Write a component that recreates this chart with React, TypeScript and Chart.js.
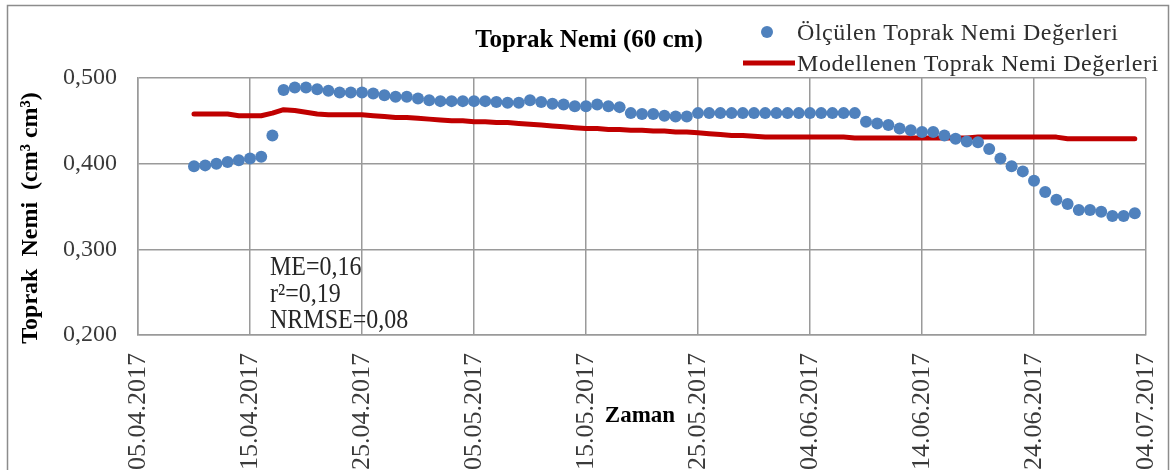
import React, { useEffect, useRef } from 'react';
import { Chart, registerables } from 'chart.js';

Chart.register(...registerables);

const SERIF = "'Liberation Serif', 'Times New Roman', serif";

const chartTitle = 'Toprak Nemi (60 cm)';
const yTitle = 'Toprak  Nemi  (cm³ cm³)';
const xTitle = 'Zaman';
const seriesLabels = ['Ölçülen Toprak Nemi Değerleri', 'Modellenen Toprak Nemi Değerleri'];
const statsLines = ['ME=0,16', 'r²=0,19', 'NRMSE=0,08'];

// x axis: days since 05.04.2017, ticks every 10 days
const xTickLabels = [
  '05.04.2017', '15.04.2017', '25.04.2017', '05.05.2017', '15.05.2017',
  '25.05.2017', '04.06.2017', '14.06.2017', '24.06.2017', '04.07.2017',
];
const yTickValues = [0.2, 0.3, 0.4, 0.5];
const yTickLabels = ['0,200', '0,300', '0,400', '0,500'];

// first observation day (10.04.2017), one value per day
const firstDay = 5;

const measured = [
  0.397, 0.398, 0.400, 0.402, 0.404, 0.406, 0.408, 0.433, 0.486, 0.489,
  0.489, 0.487, 0.485, 0.483, 0.483, 0.483, 0.482, 0.480, 0.478, 0.478,
  0.476, 0.474, 0.473, 0.473, 0.473, 0.473, 0.473, 0.472, 0.471, 0.471,
  0.474, 0.472, 0.470, 0.469, 0.467, 0.467, 0.469, 0.467, 0.466, 0.459,
  0.458, 0.458, 0.456, 0.455, 0.455, 0.459, 0.459, 0.459, 0.459, 0.459,
  0.459, 0.459, 0.459, 0.459, 0.459, 0.459, 0.459, 0.459, 0.459, 0.459,
  0.449, 0.447, 0.445, 0.441, 0.439, 0.437, 0.437, 0.433, 0.429, 0.426,
  0.425, 0.417, 0.406, 0.397, 0.391, 0.380, 0.367, 0.358, 0.353, 0.346,
  0.346, 0.344, 0.339, 0.339, 0.342,
];

const modeled = [
  0.458, 0.458, 0.458, 0.458, 0.456, 0.456, 0.456, 0.459, 0.463, 0.462,
  0.460, 0.458, 0.457, 0.457, 0.457, 0.457, 0.456, 0.455, 0.454, 0.454,
  0.453, 0.452, 0.451, 0.450, 0.450, 0.449, 0.449, 0.448, 0.448, 0.447,
  0.446, 0.445, 0.444, 0.443, 0.442, 0.441, 0.441, 0.440, 0.440, 0.439,
  0.439, 0.438, 0.438, 0.437, 0.437, 0.436, 0.435, 0.434, 0.433, 0.433,
  0.432, 0.431, 0.431, 0.431, 0.431, 0.431, 0.431, 0.431, 0.431, 0.430,
  0.430, 0.430, 0.430, 0.430, 0.430, 0.430, 0.430, 0.430, 0.430, 0.430,
  0.431, 0.431, 0.431, 0.431, 0.431, 0.431, 0.431, 0.431, 0.429, 0.429,
  0.429, 0.429, 0.429, 0.429, 0.429,
];

const BLUE = '#4F81BD';
const RED = '#C00000';
const GRID = '#9a9a9a';

const decor = {
  id: 'decor',
  beforeDraw(chart: any) {
    const ctx = chart.ctx;
    ctx.save();
    ctx.fillStyle = '#ffffff';
    ctx.fillRect(0, 0, chart.width, chart.height);
    ctx.strokeStyle = '#8c8c8c';
    ctx.lineWidth = 1.5;
    ctx.beginPath();
    ctx.moveTo(7.5, chart.height + 5);
    ctx.lineTo(7.5, 5.5);
    ctx.lineTo(1168.5, 5.5);
    ctx.lineTo(1168.5, chart.height + 5);
    ctx.stroke();
    ctx.restore();
  },
  afterDraw(chart: any) {
    const ctx = chart.ctx;
    const ds = chart.data.datasets;
    ctx.save();
    // title
    ctx.fillStyle = '#000000';
    ctx.font = `bold 25px ${SERIF}`;
    ctx.textAlign = 'center';
    ctx.textBaseline = 'alphabetic';
    ctx.fillText(chartTitle, 589, 47);

    // legend
    ctx.beginPath();
    ctx.arc(767, 32, 6, 0, Math.PI * 2);
    ctx.fillStyle = ds[0].backgroundColor;
    ctx.fill();
    ctx.strokeStyle = ds[1].borderColor;
    ctx.lineWidth = 5;
    ctx.beginPath();
    ctx.moveTo(743, 63);
    ctx.lineTo(795, 63);
    ctx.stroke();
    ctx.font = `24px ${SERIF}`;
    ctx.textAlign = 'left';
    ctx.fillStyle = '#2e2e2e';
    (ctx as any).letterSpacing = '0.55px';
    ctx.fillText(seriesLabels[0], 797, 40);
    ctx.fillText(seriesLabels[1], 797, 71);
    (ctx as any).letterSpacing = '0px';

    // y title
    ctx.save();
    ctx.translate(36.5, 218);
    ctx.rotate(-Math.PI / 2);
    ctx.font = `bold 24px ${SERIF}`;
    ctx.fillStyle = '#000000';
    ctx.textAlign = 'center';
    ctx.fillText(yTitle, 0, 0);
    ctx.restore();

    // x title
    ctx.font = `bold 23px ${SERIF}`;
    ctx.fillStyle = '#000000';
    ctx.textAlign = 'center';
    ctx.fillText(xTitle, 640, 422);

    // statistics
    ctx.font = `24px ${SERIF}`;
    ctx.textAlign = 'left';
    ctx.fillStyle = '#262626';
    const baselines = [275, 301.5, 328];
    statsLines.forEach((t, i) => {
      ctx.save();
      ctx.translate(270, baselines[i]);
      ctx.scale(1, 1.12);
      ctx.fillText(t, 0, 0);
      ctx.restore();
    });
    ctx.restore();
  },
};

export default function App() {
  const ref = useRef<HTMLCanvasElement | null>(null);

  useEffect(() => {
    if (!ref.current) return;
    const chart = new Chart(ref.current, {
      type: 'line',
      data: {
        datasets: [
          {
            label: seriesLabels[0],
            data: measured.map((v, i) => ({ x: firstDay + i, y: v })),
            showLine: false,
            backgroundColor: BLUE,
            borderColor: BLUE,
            pointRadius: 6,
            pointBorderWidth: 0,
            pointHoverRadius: 6,
          },
          {
            label: seriesLabels[1],
            data: modeled.map((v, i) => ({ x: firstDay + i, y: v })),
            borderColor: RED,
            backgroundColor: RED,
            borderWidth: 5,
            pointRadius: 0,
            tension: 0,
            borderCapStyle: 'round',
            borderJoinStyle: 'round',
          },
        ],
      },
      options: {
        animation: false,
        responsive: false,
        devicePixelRatio: 1,
        layout: { padding: { left: 0, right: 26, top: 78, bottom: 0 } },
        plugins: {
          legend: { display: false },
          title: { display: false },
          tooltip: { enabled: false },
        },
        scales: {
          x: {
            type: 'linear',
            min: 0,
            max: 90,
            afterFit: (s: any) => {
              s.height = 135;
              s.paddingLeft = 0;
              s.paddingRight = 0;
            },
            grid: { color: GRID, lineWidth: 1.5, drawTicks: false },
            border: { display: true, color: GRID, width: 1.5 },
            ticks: {
              stepSize: 10,
              autoSkip: false,
              minRotation: 90,
              maxRotation: 90,
              padding: 18,
              color: '#3a3a3a',
              font: { family: SERIF, size: 26 },
              callback: (v: any) => xTickLabels[Math.round(Number(v) / 10)] ?? '',
            },
          },
          y: {
            min: 0.2,
            max: 0.5,
            afterFit: (s: any) => {
              s.width = 138;
              s.paddingTop = 0;
              s.paddingBottom = 0;
            },
            grid: { color: GRID, lineWidth: 1.5, drawTicks: false },
            border: { display: true, color: GRID, width: 1.5 },
            ticks: {
              stepSize: 0.1,
              padding: 21,
              color: '#3a3a3a',
              font: { family: SERIF, size: 24 },
              callback: (v: any) => {
                const i = yTickValues.findIndex((t) => Math.abs(t - Number(v)) < 1e-6);
                return i >= 0 ? yTickLabels[i] : '';
              },
            },
          },
        },
      } as any,
      plugins: [decor],
    });
    return () => chart.destroy();
  }, []);

  return (
    <div style={{ position: 'absolute', left: 0, top: 0, width: 1172, height: 470 }}>
      <canvas ref={ref} width={1172} height={470} style={{ display: 'block' }} />
    </div>
  );
}
